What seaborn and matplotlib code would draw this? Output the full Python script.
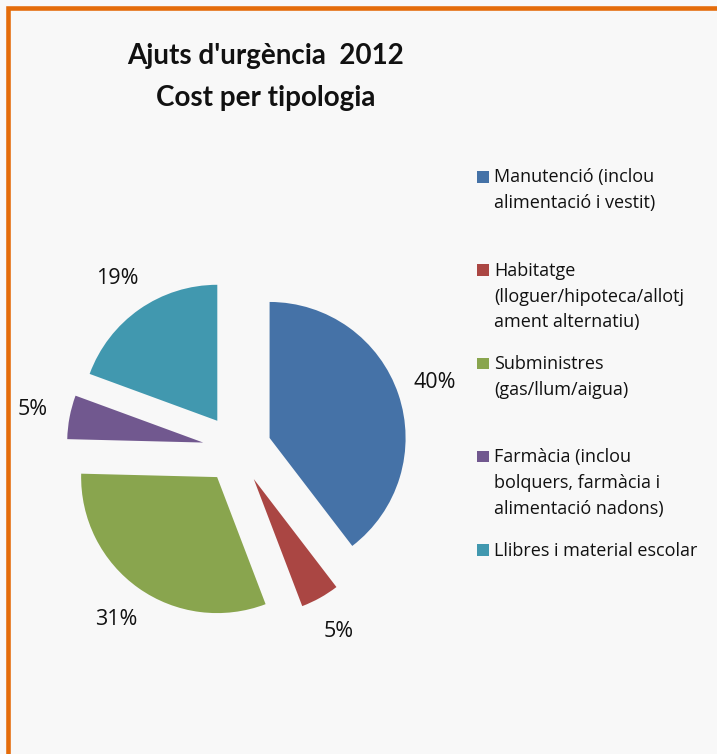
import matplotlib
matplotlib.use("Agg")
import matplotlib.pyplot as plt
import seaborn as sns
from matplotlib.patches import Rectangle

# ---- data ----
categories = [
    "Manutenció (inclou\nalimentació i vestit)",
    "Habitatge\n(lloguer/hipoteca/allotj\nament alternatiu)",
    "Subministres\n(gas/llum/aigua)",
    "Farmàcia (inclou\nbolquers, farmàcia i\nalimentació nadons)",
    "Llibres i material escolar",
]
shares = [39.6, 4.6, 31.2, 5.2, 19.4]
colors = ["#4572A7", "#AA4643", "#89A54E", "#71588F", "#4198AF"]
title_text = "Ajuts d'urgència  2012\nCost per tipologia"

sns.set_theme(style="white")
plt.rcParams["font.family"] = ["Open Sans", "DejaVu Sans"]

W, H = 717, 754
BG = "#F8F8F8"
fig = plt.figure(figsize=(W / 100, H / 100), dpi=100, facecolor=BG)

# orange frame (top and left visible)
fig.patches.append(Rectangle((8 / W, -0.1), 1.2, 1.1 - 8 / H, transform=fig.transFigure,
                             fill=False, edgecolor="#E46C0A", linewidth=3.3, figure=fig))

# ---- pie ----
cx, cy, r, L = 237, 449, 136, 1.6
ax = fig.add_axes([(cx - L * r) / W, (H - cy - L * r) / H, 2 * L * r / W, 2 * L * r / H])
palette = sns.color_palette(colors)
ax.pie(shares, colors=palette, startangle=90, counterclock=False,
       explode=[0.253] * len(shares), autopct="%.0f%%", pctdistance=1.28,
       textprops=dict(fontsize=15.5, color="#111111"),
       wedgeprops=dict(linewidth=0))
ax.set_xlim(-L, L)
ax.set_ylim(-L, L)
ax.set_aspect("equal")
ax.axis("off")

# ---- title (va=baseline anchors the last line) ----
fig.text(266 / W, 1 - 106 / H, title_text, ha="center", va="baseline", multialignment="center",
         fontsize=20, fontweight="bold", color="#111111", linespacing=1.78,
         family=["Lato", "DejaVu Sans"])

# ---- legend ----
top0, step, sq, line_h = 171, 93.3, 11.5, 25.7
for i, (lab, col) in enumerate(zip(categories, palette)):
    top = top0 + i * step
    fig.patches.append(Rectangle((477 / W, 1 - (top + sq) / H), sq / W, sq / H,
                                 transform=fig.transFigure, facecolor=col, edgecolor="none", figure=fig))
    base_last = top + sq + lab.count("\n") * line_h
    fig.text(494 / W, 1 - base_last / H, lab, ha="left", va="baseline", fontsize=13,
             color="#111111", linespacing=1.55)

fig.savefig("out.png", dpi=100, facecolor=BG)
